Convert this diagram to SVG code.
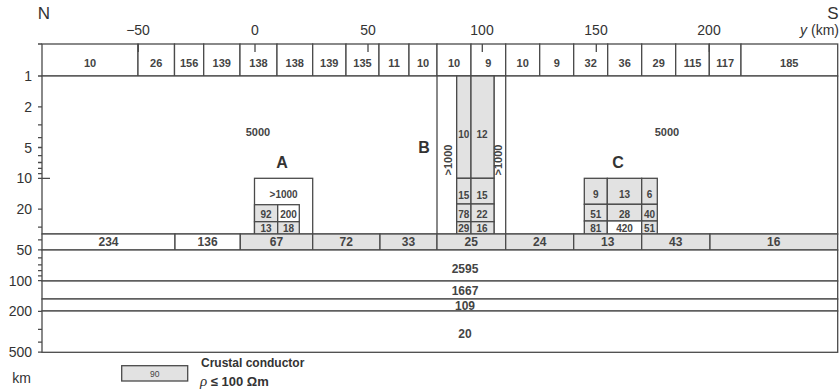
<svg xmlns="http://www.w3.org/2000/svg" width="840" height="391" viewBox="0 0 840 391">
<style>
.ln{stroke:#4a4a4a;stroke-width:1.3;fill:none}
.c{stroke:#4a4a4a;stroke-width:1.3;fill:#fff}
.g{stroke:#4a4a4a;stroke-width:1.3;fill:#e2e2e2}
text{font-family:"Liberation Sans",Arial,sans-serif;fill:#333}
.n{font-size:11px;font-weight:bold;text-anchor:middle;fill:#444}
.r{font-size:12px;font-weight:bold;text-anchor:middle;fill:#444}
.s{font-size:10px;font-weight:bold;text-anchor:middle;fill:#444}
.ax{font-size:14px;text-anchor:middle}
.dp{font-size:14px;text-anchor:end}
.big{font-size:16px;font-weight:bold;text-anchor:middle}
</style>
<rect width="840" height="391" fill="#fff"/>

<g id="top-row">
<rect class="c" x="42" y="44" width="96" height="32"/><text class="n" x="90" y="67">10</text>
<rect class="c" x="138" y="44" width="36.5" height="32"/><text class="n" x="156.2" y="67">26</text>
<rect class="c" x="174.5" y="44" width="29.2" height="32"/><text class="n" x="189.1" y="67">156</text>
<rect class="c" x="203.7" y="44" width="36.3" height="32"/><text class="n" x="221.8" y="67">139</text>
<rect class="c" x="240" y="44" width="37" height="32"/><text class="n" x="258.5" y="67">138</text>
<rect class="c" x="277" y="44" width="35.7" height="32"/><text class="n" x="294.8" y="67">138</text>
<rect class="c" x="312.7" y="44" width="33.3" height="32"/><text class="n" x="329.3" y="67">139</text>
<rect class="c" x="346" y="44" width="33" height="32"/><text class="n" x="362.5" y="67">135</text>
<rect class="c" x="379" y="44" width="30" height="32"/><text class="n" x="394" y="67">11</text>
<rect class="c" x="409" y="44" width="28" height="32"/><text class="n" x="423" y="67">10</text>
<rect class="c" x="437" y="44" width="34" height="32"/><text class="n" x="454" y="67">10</text>
<rect class="c" x="471" y="44" width="34.7" height="32"/><text class="n" x="488.3" y="67">9</text>
<rect class="c" x="505.7" y="44" width="34" height="32"/><text class="n" x="522.7" y="67">10</text>
<rect class="c" x="539.7" y="44" width="34" height="32"/><text class="n" x="556.7" y="67">9</text>
<rect class="c" x="573.7" y="44" width="34" height="32"/><text class="n" x="590.7" y="67">32</text>
<rect class="c" x="607.7" y="44" width="34" height="32"/><text class="n" x="624.7" y="67">36</text>
<rect class="c" x="641.7" y="44" width="34" height="32"/><text class="n" x="658.7" y="67">29</text>
<rect class="c" x="675.7" y="44" width="33.6" height="32"/><text class="n" x="692.5" y="67">115</text>
<rect class="c" x="709.3" y="44" width="31.7" height="32"/><text class="n" x="725.2" y="67">117</text>
<rect class="c" x="741" y="44" width="96.7" height="32"/><text class="n" x="789.3" y="67">185</text>
</g>

<g id="upper-crust">
<rect class="c" x="42" y="76" width="795.7" height="158"/>
<text class="n" x="258" y="136">5000</text>
<text class="n" x="667" y="136">5000</text>
</g>

<g id="block-A">
<rect class="c" x="254.5" y="178.3" width="58.2" height="55.7"/>
<rect class="g" x="254.5" y="204.7" width="23.2" height="17"/>
<rect class="c" x="277.7" y="204.7" width="21.6" height="17"/>
<rect class="g" x="254.5" y="221.7" width="23.2" height="12.3"/>
<rect class="g" x="277.7" y="221.7" width="21.6" height="12.3"/>
<text class="s" x="283.6" y="197.6">&gt;1000</text>
<text class="s" x="266" y="217.6">92</text>
<text class="s" x="288.5" y="217.6">200</text>
<text class="s" x="266" y="232.3">13</text>
<text class="s" x="288.5" y="232.3">18</text>
<text class="big" x="282" y="168">A</text>
</g>

<g id="block-B">
<rect class="c" x="437" y="76" width="19.7" height="158"/>
<rect class="c" x="494" y="76" width="11.7" height="158"/>
<rect class="g" x="456.7" y="76" width="14.3" height="102.3"/>
<rect class="g" x="471" y="76" width="23" height="102.3"/>
<rect class="g" x="456.7" y="178.3" width="14.3" height="25.7"/>
<rect class="g" x="471" y="178.3" width="23" height="25.7"/>
<rect class="g" x="456.7" y="204" width="14.3" height="17.7"/>
<rect class="g" x="471" y="204" width="23" height="17.7"/>
<rect class="g" x="456.7" y="221.7" width="14.3" height="12.3"/>
<rect class="g" x="471" y="221.7" width="23" height="12.3"/>
<text class="s" x="463.8" y="137.6">10</text>
<text class="s" x="482" y="137.6">12</text>
<text class="s" x="463.8" y="198.6">15</text>
<text class="s" x="482" y="198.6">15</text>
<text class="s" x="463.8" y="217.9">78</text>
<text class="s" x="482" y="217.9">22</text>
<text class="s" x="463.8" y="232.3">29</text>
<text class="s" x="482" y="232.3">16</text>
<text class="s" transform="translate(452.3,160) rotate(-90)" style="font-size:11px">&gt;1000</text>
<text class="s" transform="translate(502,160) rotate(-90)" style="font-size:11px">&gt;1000</text>
<text class="big" x="424" y="153.3">B</text>
</g>

<g id="block-C">
<rect class="g" x="584.3" y="178.3" width="23" height="26"/>
<rect class="g" x="607.3" y="178.3" width="34.4" height="26"/>
<rect class="g" x="641.7" y="178.3" width="15.6" height="26"/>
<rect class="g" x="584.3" y="204.3" width="23" height="16.7"/>
<rect class="g" x="607.3" y="204.3" width="34.4" height="16.7"/>
<rect class="g" x="641.7" y="204.3" width="15.6" height="16.7"/>
<rect class="g" x="584.3" y="221" width="23" height="13"/>
<rect class="c" x="607.3" y="221" width="34.4" height="13"/>
<rect class="g" x="641.7" y="221" width="15.6" height="13"/>
<text class="s" x="595.8" y="197.6">9</text>
<text class="s" x="624.5" y="197.6">13</text>
<text class="s" x="649.5" y="197.6">6</text>
<text class="s" x="595.8" y="217.6">51</text>
<text class="s" x="624.5" y="217.6">28</text>
<text class="s" x="649.5" y="217.6">40</text>
<text class="s" x="595.8" y="232.3">81</text>
<text class="s" x="624.5" y="232.3">420</text>
<text class="s" x="649.5" y="232.3">51</text>
<text class="big" x="618" y="168">C</text>
</g>

<g id="lower-crust">
<rect class="c" x="42" y="234" width="133" height="16"/><text class="r" x="108.5" y="246.3">234</text>
<rect class="c" x="175" y="234" width="65.3" height="16"/><text class="r" x="207.6" y="246.3">136</text>
<rect class="g" x="240.3" y="234" width="72.4" height="16"/><text class="r" x="276.5" y="246.3">67</text>
<rect class="g" x="312.7" y="234" width="67.3" height="16"/><text class="r" x="346.3" y="246.3">72</text>
<rect class="g" x="380" y="234" width="57" height="16"/><text class="r" x="408.5" y="246.3">33</text>
<rect class="g" x="437" y="234" width="68.7" height="16"/><text class="r" x="471.3" y="246.3">25</text>
<rect class="g" x="505.7" y="234" width="68" height="16"/><text class="r" x="539.7" y="246.3">24</text>
<rect class="g" x="573.7" y="234" width="68" height="16"/><text class="r" x="607.7" y="246.3">13</text>
<rect class="g" x="641.7" y="234" width="68.3" height="16"/><text class="r" x="675.8" y="246.3">43</text>
<rect class="g" x="710" y="234" width="127.7" height="16"/><text class="r" x="773.8" y="246.3">16</text>
</g>

<g id="mantle">
<rect class="c" x="42" y="250" width="795.7" height="31"/><text class="r" x="465" y="273.3">2595</text>
<rect class="c" x="42" y="281" width="795.7" height="18"/><text class="r" x="465" y="294.8">1667</text>
<rect class="c" x="42" y="299" width="795.7" height="12"/><text class="r" x="465" y="309.6">109</text>
<rect class="c" x="42" y="311" width="795.7" height="41.3"/><text class="r" x="465" y="337.5">20</text>
</g>

<g id="axes">
<path class="ln" d="M38 44H42M38 76H42"/>
<path class="ln" d="M138.3 44V52M255 44V52M368 44V52M482.3 44V52M596.3 44V52M709.3 44V52"/>
<path class="ln" d="M38 106.8H42M38 124.8H42M38 137.6H42M38 147.5H42M38 155.6H42M38 162.5H42M38 168.4H42M38 173.6H42M38 178.3H50M38 209.1H42M38 227.1H42M38 239.9H42M38 249.8H42M38 257.9H42M38 264.8H42M38 270.7H42M38 275.9H42M38 280.6H42M38 311.4H42M38 329.4H42M38 342.2H42M38 352.1H42"/>
<text class="ax" x="138" y="35">−50</text>
<text class="ax" x="255" y="35">0</text>
<text class="ax" x="368" y="35">50</text>
<text class="ax" x="482" y="35">100</text>
<text class="ax" x="596" y="35">150</text>
<text class="ax" x="709" y="35">200</text>
<text x="839" y="35" style="font-size:14px;text-anchor:end"><tspan font-style="italic">y</tspan> (km)</text>
<text x="44" y="19" style="font-size:17px;text-anchor:middle">N</text>
<text x="833" y="19" style="font-size:17px;text-anchor:middle">S</text>
<text class="dp" x="32" y="81">1</text>
<text class="dp" x="32" y="111.8">2</text>
<text class="dp" x="32" y="152.5">5</text>
<text class="dp" x="32" y="183.3">10</text>
<text class="dp" x="32" y="214.1">20</text>
<text class="dp" x="32" y="254.8">50</text>
<text class="dp" x="32" y="285.6">100</text>
<text class="dp" x="32" y="316.4">200</text>
<text class="dp" x="32" y="357.1">500</text>
<text class="dp" x="31" y="383">km</text>
</g>

<g id="legend">
<rect class="g" x="121.7" y="365.7" width="66" height="15.3"/>
<text x="154.7" y="376.6" style="font-size:8.5px;text-anchor:middle;fill:#444">90</text>
<text x="201" y="367.3" style="font-size:12px;font-weight:bold">Crustal conductor</text>
<text x="200" y="386" style="font-size:13px;font-weight:bold"><tspan font-family="Liberation Serif,serif" font-style="italic" font-weight="normal" font-size="15px">ρ</tspan> ≤ 100 Ωm</text>
</g>
</svg>
